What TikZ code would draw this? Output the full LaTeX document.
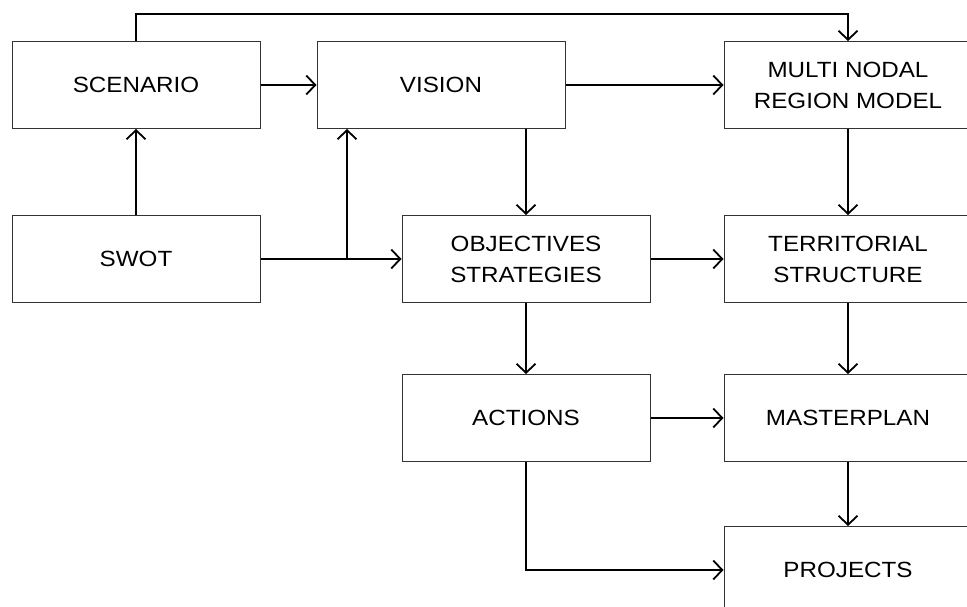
\documentclass[tikz,border=0pt]{standalone}
\usepackage{fontspec}
\setmainfont[FakeStretch=1.1]{Liberation Sans}
\usepackage{tikz}
\usetikzlibrary{arrows.meta}

\begin{document}
\begin{tikzpicture}
    [x=1pt,y=-1pt,
    block/.style={draw=black!80,line width=1pt,minimum width=248pt,minimum height=87pt,inner sep=0pt,align=center,font=\fontsize{22}{31}\selectfont},
    link/.style={-{Straight Barb[length=9pt,width=19pt]},black,line width=1.8pt}]

\useasboundingbox (0,0) rectangle (967,607);

%boxes, placed at their centres
\node[block] (scenario) at (136,85) {SCENARIO};
\node[block] (vision) at (441,85) {VISION};
\node[block] (multi) at (848,85) {MULTI NODAL\\REGION MODEL};
\node[block] (swot) at (136,259) {SWOT};
\node[block] (objectives) at (526,259) {OBJECTIVES\\STRATEGIES};
\node[block] (territorial) at (848,259) {TERRITORIAL\\STRUCTURE};
\node[block] (actions) at (526,418) {ACTIONS};
\node[block] (masterplan) at (848,418) {MASTERPLAN};
\node[block] (projects) at (848,570) {PROJECTS};

%branch point on the swot line
\coordinate (split) at (347,259);

%draw the links
\draw[link] (scenario.north) -- ++(0,-27) -| (multi.north);
\draw[link] (scenario) -- (vision);
\draw[link] (vision) -- (multi);
\draw[link] (swot) -- (scenario);
\draw[link] (swot) -- (objectives);
\draw[link] (split) -- (split |- vision.south);
\draw[link] (vision.south -| objectives.north) -- (objectives.north);
\draw[link] (objectives) -- (territorial);
\draw[link] (multi) -- (territorial);
\draw[link] (objectives) -- (actions);
\draw[link] (territorial) -- (masterplan);
\draw[link] (actions) -- (masterplan);
\draw[link] (masterplan) -- (projects);
\draw[link] (actions.south) |- (projects.west);

\end{tikzpicture}
\end{document}
